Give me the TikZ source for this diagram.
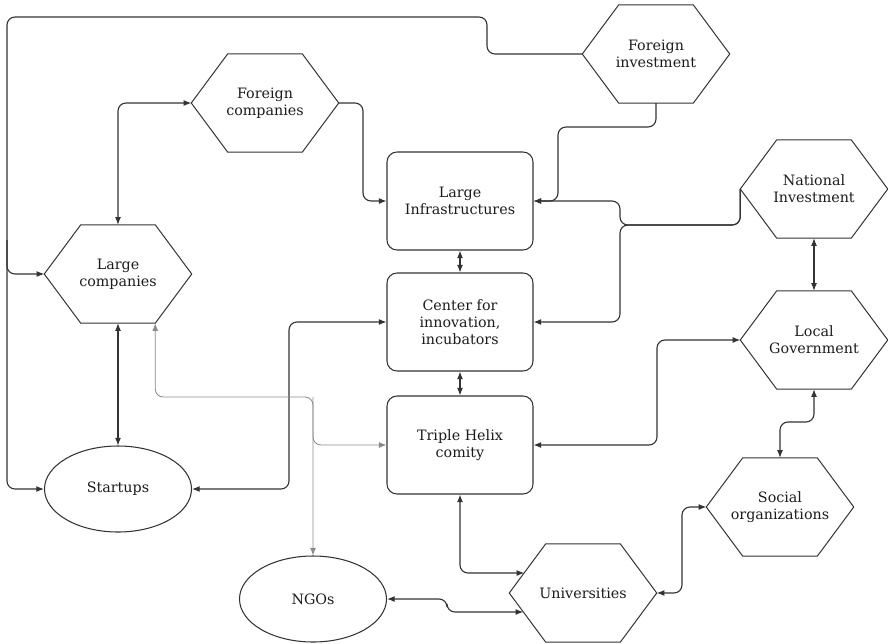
\documentclass[tikz,border=0pt]{standalone}
\usepackage{fontspec}
\setmainfont{DejaVu Serif}
\usetikzlibrary{arrows.meta,shapes.geometric,calc}
\definecolor{linec}{HTML}{333333}
\definecolor{grayc}{HTML}{8A8A8A}
\definecolor{textc}{HTML}{1C1C1C}
\begin{document}
\begin{tikzpicture}[x=0.3mm, y=-0.3mm,
        >={Latex[length=2.3mm,width=1.8mm]},
        every node/.style={font=\fontsize{12.2}{14.5}\selectfont, text=textc, align=center},
        box/.style={draw=linec, line width=0.9pt, rounded corners=3mm,
            minimum width=43.8mm, minimum height=29.4mm, inner sep=0pt},
        hexa/.style={minimum width=44.1mm, minimum height=29.4mm, inner sep=0pt},
        oval/.style={draw=linec, line width=0.9pt, ellipse, inner sep=0pt,
            minimum width=44.1mm, minimum height=25.8mm},
        link/.style={draw=linec, line width=0.95pt, rounded corners=2.4mm},
        glink/.style={draw=grayc, line width=0.7pt, rounded corners=2.4mm}]
    \useasboundingbox (0,0) rectangle (888,643);

    \node[hexa] (fi) at (656,54) {Foreign\\investment};
    \node[hexa] (fc) at (265,103) {Foreign\\companies};
    \node[hexa] (lc) at (118,274) {Large\\companies};
    \node[box] (li) at (460,201) {Large\\Infrastructures};
    \node[box] (ci) at (460,322) {Center for\\innovation,\\incubators};
    \node[box] (th) at (460,445) {Triple Helix\\comity};
    \node[hexa] (ni) at (814,189) {National\\Investment};
    \node[hexa] (lg) at (814,340) {Local\\Government};
    \node[hexa] (so) at (780,507) {Social\\organizations};
    \node[hexa] (un) at (583,593) {Universities};
    \node[oval] (st) at (118,489) {Startups};
    \node[oval] (ngo) at (313,599) {NGOs};

    % hexagon outlines
    \foreach \n in {fi,fc,lc,ni,lg,so,un}
        \draw[linec, line width=0.85pt] (\n.west) -- ([xshift=10.95mm]\n.north west)
            -- ([xshift=-10.95mm]\n.north east) -- (\n.east)
            -- ([xshift=-10.95mm]\n.south east) -- ([xshift=10.95mm]\n.south west) -- cycle;

    \coordinate (unup) at ($(un.west)+(15,-20)$);
    \coordinate (undown) at ($(un.west)+(14,19)$);
    \coordinate (lcfoot) at ([xshift=-10.95mm]lc.south east);
    \coordinate (leftline) at (7,240);

    \draw[link,<->] (fc.west) -| (lc.north);
    \draw[link,->] (fc.east) -- (363,103) |- (li.west);
    \draw[link,->] (fi.west) -- (487,54) |- (7,17) -- (7,489) -- (st.west);
    \draw[link,->] (leftline) |- (lc.west);
    \draw[link,->] (fi.south) |- (558,127) |- (li.east);
    \draw[link,->] (ni.west) |- (620,225) |- (li.east);
    \draw[link,->] (ni.west) |- (620,225) |- (ci.east);
    \draw[link,<->] (li.south) -- (ci.north);
    \draw[link,<->] (ci.south) -- (th.north);
    \draw[link,<->] (ni.south) -- (lg.north);
    \draw[link,<->] (th.east) -- (657,445) |- (lg.west);
    \draw[link,<->] (lg.south) |- (780,422) -- (so.north);
    \draw[link,<->] (un.east) -- (682,593) |- (so.west);
    \draw[link,<->] (th.south) |- (unup);
    \draw[link,<->] (ngo.east) -- (447,599) |- (undown);
    \draw[link,<->] (st.east) -- (289,489) |- (ci.west);
    \draw[link,<->] (lc.south) -- (st.north);

    \draw[glink,<->] (lcfoot) |- (313,397) -- (ngo.north);
    \draw[glink,->] (313,397) |- (th.west);
\end{tikzpicture}
\end{document}
